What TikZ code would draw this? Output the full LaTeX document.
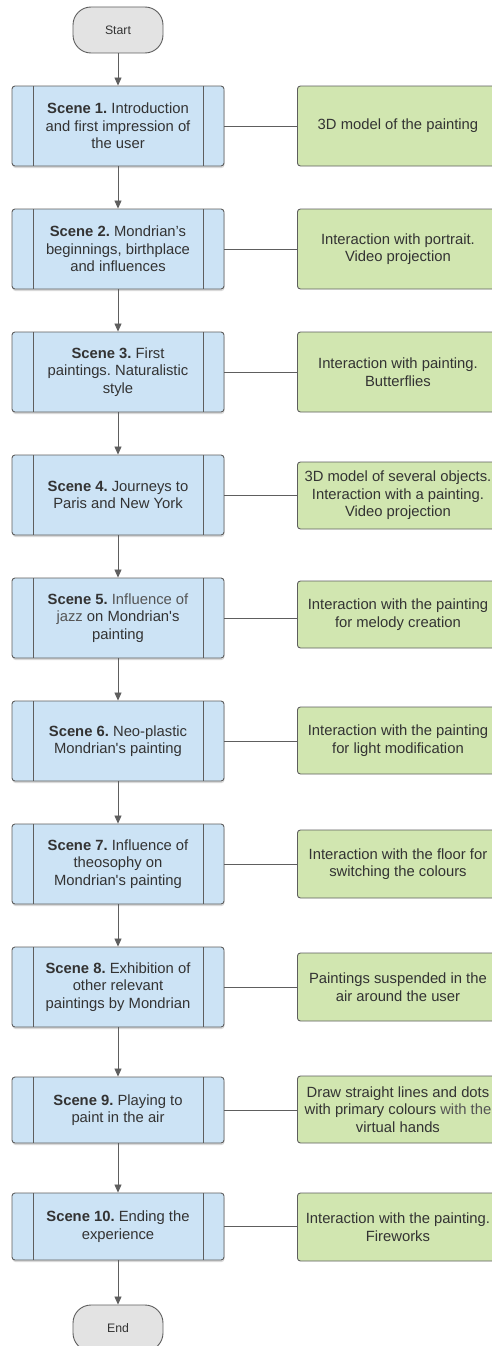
\documentclass[tikz,border=0pt]{standalone}
\usepackage{fontspec}
\setmainfont{Liberation Sans}
\usepackage{xcolor}
\usetikzlibrary{arrows.meta,shadows}
\definecolor{scenefill}{HTML}{CCE3F5}
\definecolor{actfill}{HTML}{D1E6B0}
\definecolor{termfill}{HTML}{E3E3E3}
\definecolor{edge}{HTML}{5E5E5E}
\definecolor{txt}{HTML}{333333}
\definecolor{txtlight}{HTML}{555555}
\newcommand{\scn}[1]{\textbf{Scene #1.}}
\frenchspacing

\begin{document}
\begin{tikzpicture}[x=1pt,y=-1pt,
    term/.style={draw=edge,line width=0.9pt,fill=termfill,rounded corners=18pt,
      minimum width=90pt,minimum height=46pt,text=txt,
      font=\fontsize{12.3}{14}\selectfont},
    scene/.style={draw=edge,line width=0.9pt,fill=scenefill,rounded corners=3pt,
      minimum width=212pt,minimum height=80pt,align=center,text=txt,
      font=\fontsize{14.8}{17.6}\selectfont,
      drop shadow={shadow xshift=0.5pt,shadow yshift=-2pt,opacity=0.3},
      path picture={
        \draw[edge,line width=0.9pt]
          ([xshift=21pt]path picture bounding box.north west) --
          ([xshift=21pt]path picture bounding box.south west)
          ([xshift=-21pt]path picture bounding box.north east) --
          ([xshift=-21pt]path picture bounding box.south east);}},
    act/.style={draw=edge,line width=0.9pt,fill=actfill,rounded corners=3pt,
      minimum width=201pt,minimum height=80pt,align=center,text=txt,anchor=west,
      font=\fontsize{14.8}{17.6}\selectfont},
    arr/.style={draw=edge,line width=0.8pt,-{Triangle[length=8pt,width=7pt]}},
    link/.style={draw=edge,line width=0.8pt}]
  \useasboundingbox (0,0) rectangle (492,1346);

  % terminals
  \node[term] (start) at (118,30) {Start};
  \node[term] (end) at (118,1328) {End};

  % scenes
  \node[scene] (s1) at (118,126) {\scn{1} Introduction\\and first impression of\\the user};
  \node[scene] (s2) at (118,249) {\scn{2} Mondrian’s\\beginnings, birthplace\\and influences};
  \node[scene] (s3) at (118,372) {\scn{3} First\\paintings. Naturalistic\\style};
  \node[scene] (s4) at (118,495) {\scn{4} Journeys to\\Paris and New York};
  \node[scene] (s5) at (118,618) {\scn{5} \textcolor{txtlight}{Influence of}\\\textcolor{txtlight}{jazz} on Mondrian\textquotesingle s\\painting};
  \node[scene] (s6) at (118,741) {\scn{6} Neo-plastic\\Mondrian\textquotesingle s painting};
  \node[scene] (s7) at (118,864) {\scn{7} Influence of\\theosophy on\\Mondrian\textquotesingle s painting};
  \node[scene] (s8) at (118,987) {\scn{8} Exhibition of\\other relevant\\paintings by Mondrian};
  \node[scene,minimum height=66pt] (s9) at (118,1110) {\scn{9} Playing to\\paint in the air};
  \node[scene,minimum height=67pt] (s10) at (118,1226.5) {\scn{10} Ending the\\experience};

  % interactions
  \node[act] (g1) at (297,126) {3D model of the painting};
  \node[act] (g2) at (297,249) {Interaction with portrait.\\Video projection};
  \node[act] (g3) at (297,372) {Interaction with painting.\\Butterflies};
  \node[act,minimum height=67pt] (g4) at (297,495.5) {3D model of several objects.\\Interaction with a painting.\\Video projection};
  \node[act,minimum height=67pt] (g5) at (297,614.5) {Interaction with the painting\\for melody creation};
  \node[act,minimum height=67pt] (g6) at (297,740.5) {Interaction with the painting\\for light modification};
  \node[act,minimum height=68pt] (g7) at (297,864) {Interaction with the floor for\\switching the colours};
  \node[act,minimum height=68pt] (g8) at (297,987) {Paintings suspended in the\\air around the user};
  \node[act,minimum height=67pt] (g9) at (297,1109.5) {Draw straight lines and dots\\with primary colours \textcolor{txtlight}{with the}\\virtual hands};
  \node[act,minimum height=68pt] (g10) at (297,1227) {Interaction with the painting.\\Fireworks};

  % flow
  \draw[arr] (start) -- (s1);
  \foreach \i [count=\j from 2] in {1,...,9}
    \draw[arr] (s\i) -- (s\j);
  \draw[arr] (s10) -- (end);
  \foreach \i in {1,...,10}
    \draw[link] (s\i.east) -- (s\i.east -| g\i.west);
\end{tikzpicture}
\end{document}
